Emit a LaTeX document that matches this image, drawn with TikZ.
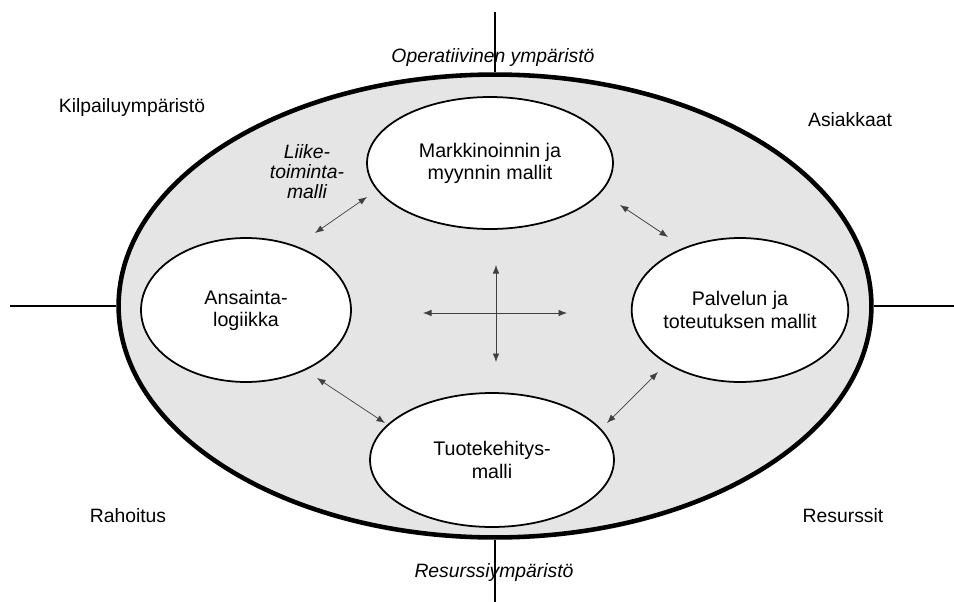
\documentclass[tikz,border=0pt]{standalone}
\usepackage{fontspec}
\setmainfont{Liberation Sans}
\usetikzlibrary{arrows.meta,shapes.geometric}

\tikzset{
  model/.style={draw=black,line width=1pt,fill=white,ellipse,align=center,inner sep=0pt,font=\fontsize{11.2}{12.6}\selectfont},
  plain/.style={align=center,inner sep=1pt,font=\fontsize{11}{12.5}\selectfont},
  envlabel/.style={align=center,inner sep=1pt,font=\fontsize{11}{11.4}\selectfont\itshape},
  link/.style={{Latex[length=1.7mm,width=1.3mm]}-{Latex[length=1.7mm,width=1.3mm]},draw=black!75,line width=0.4pt},
  axis/.style={draw=black,line width=0.9pt}
}

\begin{document}
\begin{tikzpicture}[x=0.02cm,y=-0.02cm]
\useasboundingbox (0,0) rectangle (954,602);
% environment
\node[draw=black,line width=2.6pt,fill=black!10,ellipse,minimum width=15.06cm,minimum height=9.26cm,inner sep=0pt] (env) at (495,306) {};
\coordinate (axN) at (495,12);
\coordinate (axS) at (495,602);
\coordinate (axW) at (10,306);
\coordinate (axE) at (954,306);
\draw[axis] (axN) -- (env.north);
\draw[axis] (env.south) -- (axS);
\draw[axis] (axW) -- (env.west);
\draw[axis] (env.east) -- (axE);
% partial models
\node[model,minimum width=4.92cm,minimum height=2.64cm] (mark) at (490,163) {Markkinoinnin ja\\myynnin mallit};
\node[model,minimum width=4.2cm,minimum height=2.88cm] (ans) at (246,310) {Ansainta-\\logiikka};
\node[model,minimum width=4.28cm,minimum height=2.88cm] (palv) at (740,310) {Palvelun ja\\toteutuksen mallit};
\node[model,minimum width=4.88cm,minimum height=2.68cm] (tuote) at (492,460) {Tuotekehitys-\\malli};
% arrows
\coordinate (crossW) at (423,313);
\coordinate (crossE) at (567,313);
\coordinate (crossN) at (496,265);
\coordinate (crossS) at (496,362);
\draw[link] (crossW) -- (crossE);
\draw[link] (crossN) -- (crossS);
\coordinate (tl1) at (315,233);
\coordinate (tl2) at (367,197);
\coordinate (tr1) at (620,205);
\coordinate (tr2) at (668,237);
\coordinate (br1) at (658,372);
\coordinate (br2) at (607,423);
\coordinate (bl1) at (317,378);
\coordinate (bl2) at (385,423);
\draw[link] (tl1) -- (tl2);
\draw[link] (tr1) -- (tr2);
\draw[link] (br1) -- (br2);
\draw[link] (bl1) -- (bl2);
% labels
\node[envlabel] (oper) at (493,58) {Operatiivinen ympäristö};
\node[envlabel] (resymp) at (494,572) {Resurssiympäristö};
\node[envlabel] (liike) at (307,172) {Liike-\\toiminta-\\malli};
\node[plain] (kilp) at (132,107) {Kilpailuympäristö};
\node[plain] (asiak) at (850,120) {Asiakkaat};
\node[plain] (rahoit) at (128,516) {Rahoitus};
\node[plain] (resurs) at (843,516) {Resurssit};
\end{tikzpicture}
\end{document}
